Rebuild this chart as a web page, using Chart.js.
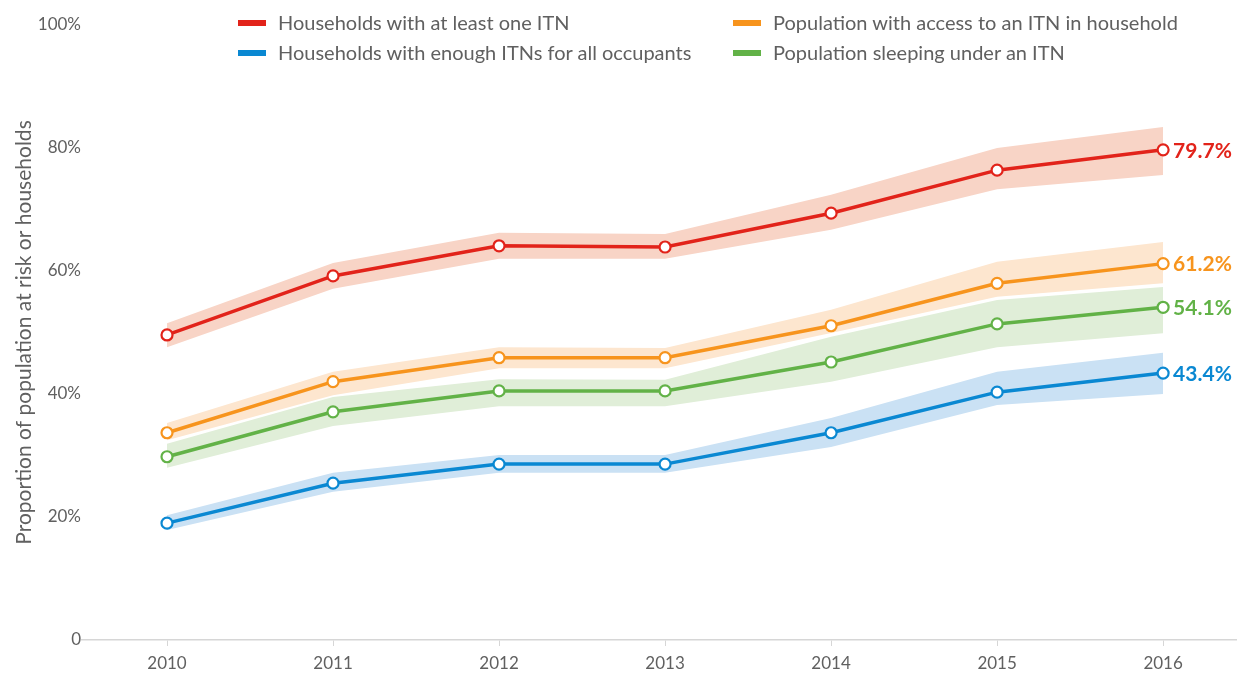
<!DOCTYPE html>
<html>
<head>
<meta charset="utf-8">
<script src="https://cdn.jsdelivr.net/npm/chart.js@4.4.1/dist/chart.umd.min.js"></script>
<style>
  body { margin: 0; background: #fff; }
  #wrap { position: relative; width: 1237px; height: 674px; }
  #legend { position: absolute; left: 238px; top: 8px; font-family: Lato, sans-serif; font-size: 20px; color: #606060; }
  .item { position: absolute; white-space: nowrap; line-height: 28px; }
  .sw { display: inline-block; width: 28px; height: 6px; margin-right: 12px; vertical-align: middle; position: relative; top: -2px; }
</style>
</head>
<body>
<div id="wrap">
  <canvas id="myChart" width="1237" height="674"></canvas>
  <div id="legend"></div>
</div>
<script>
// Años
var years = [2010, 2011, 2012, 2013, 2014, 2015, 2016];

// Hogares con al menos un MTI
var atLeastOne     = [49.6, 59.2, 64.1, 63.9, 69.4, 76.4, 79.7];
var atLeastOneLow  = [47.6, 57.1, 62.0, 62.0, 66.7, 73.3, 75.6];
var atLeastOneHigh = [51.5, 61.3, 66.2, 66.0, 72.4, 80.0, 83.4];

// Población con acceso
var access     = [33.7, 42.0, 45.9, 45.9, 51.1, 58.0, 61.2];
var accessLow  = [32.5, 39.8, 44.2, 44.2, 49.9, 55.8, 58.0];
var accessHigh = [35.3, 43.6, 47.6, 47.5, 53.7, 61.5, 64.7];

// Población durmiendo bajo MTI
var sleeping     = [29.8, 37.1, 40.5, 40.5, 45.2, 51.4, 54.1];
var sleepingLow  = [28.0, 34.8, 38.0, 38.0, 42.0, 47.6, 49.9];
var sleepingHigh = [31.9, 39.5, 42.4, 42.3, 49.3, 55.3, 57.4];

// Hogares con suficientes MTI
var enough     = [19.0, 25.5, 28.6, 28.6, 33.7, 40.3, 43.4];
var enoughLow  = [17.9, 24.1, 27.2, 27.2, 31.4, 38.2, 40.0];
var enoughHigh = [20.3, 27.2, 30.1, 30.1, 36.1, 43.6, 46.7];

var yTicks = [0, 20, 40, 60, 80, 100];

var series = [
    { label: "Households with at least one ITN", mid: atLeastOne, low: atLeastOneLow, high: atLeastOneHigh, color: "#e2231a", band: "#f8d4c6" },
    { label: "Population with access to an ITN in household", mid: access, low: accessLow, high: accessHigh, color: "#f7941d", band: "#fde6cf" },
    { label: "Population sleeping under an ITN", mid: sleeping, low: sleepingLow, high: sleepingHigh, color: "#62b247", band: "#e0eed8" },
    { label: "Households with enough ITNs for all occupants", mid: enough, low: enoughLow, high: enoughHigh, color: "#0a88d2", band: "#cae1f4" }
];

function pts(arr) {
    return arr.map(function (v, i) { return { x: years[i], y: v }; });
}

var datasets = [];
series.forEach(function (s) {
    datasets.push({ data: pts(s.low), pointRadius: 0, borderWidth: 0, fill: false, showLine: true, borderColor: "transparent" });
    datasets.push({ data: pts(s.high), pointRadius: 0, borderWidth: 0, fill: "-1", backgroundColor: s.band, borderColor: "transparent", showLine: true });
});
series.forEach(function (s) {
    datasets.push({
        data: pts(s.mid), borderColor: s.color, borderWidth: 3.5, fill: false,
        pointRadius: 5.5, pointBorderWidth: 2.2, pointBackgroundColor: "#fff", pointBorderColor: s.color,
        clip: false, isMain: true, endColor: s.color
    });
});

// Leyenda en HTML
var legendPos = [
    { i: 0, left: 0, top: 0 },
    { i: 3, left: 0, top: 30 },
    { i: 1, left: 495, top: 0 },
    { i: 2, left: 495, top: 30 }
];
var legend = document.getElementById("legend");
legendPos.forEach(function (p) {
    var s = series[p.i];
    var d = document.createElement("div");
    d.className = "item";
    d.style.left = p.left + "px";
    d.style.top = p.top + "px";
    d.innerHTML = '<span class="sw" style="background:' + s.color + '"></span>' + s.label;
    legend.appendChild(d);
});

// Etiquetas al final de cada línea
var endLabels = {
    id: "endLabels",
    afterDatasetsDraw: function (chart) {
        var ctx = chart.ctx;
        ctx.save();
        ctx.font = "bold 21px Lato, sans-serif";
        ctx.textBaseline = "middle";
        chart.data.datasets.forEach(function (ds, i) {
            if (!ds.isMain) return;
            var meta = chart.getDatasetMeta(i);
            var last = meta.data[meta.data.length - 1];
            var v = ds.data[ds.data.length - 1].y;
            ctx.fillStyle = ds.endColor;
            ctx.fillText(v.toFixed(1) + "%", last.x + 10, last.y + 1);
        });
        ctx.restore();
    }
};

var ctx = document.getElementById("myChart").getContext("2d");
var chart = new Chart(ctx, {
    type: "line",
    data: { datasets: datasets },
    plugins: [endLabels],
    options: {
        responsive: false,
        animation: false,
        layout: { autoPadding: false, padding: { top: 25, right: 0, left: 0, bottom: 0 } },
        plugins: {
            legend: { display: false },
            tooltip: { enabled: false },
            filler: { drawTime: "beforeDatasetsDraw" }
        },
        elements: { line: { tension: 0 } },
        scales: {
            x: {
                type: "linear",
                min: 2009.488,
                max: 2016.445,
                afterBuildTicks: function (scale) {
                    scale.ticks = years.map(function (y) { return { value: y }; });
                },
                afterFit: function (scale) { scale.height = 34; },
                grid: { drawOnChartArea: false, drawTicks: true, tickLength: 6, color: "#d6d6d6" },
                border: { display: true, color: "#d6d6d6", width: 1.5 },
                ticks: {
                    padding: 7,
                    color: "#606060",
                    font: { family: "Lato", size: 17 },
                    callback: function (v) { return String(v); }
                }
            },
            y: {
                min: 0,
                max: 100,
                afterBuildTicks: function (scale) {
                    scale.ticks = yTicks.map(function (v) { return { value: v }; });
                },
                afterFit: function (scale) { scale.width = 82; },
                grid: { display: false, drawTicks: false, tickLength: 0 },
                border: { display: false },
                title: {
                    display: true,
                    text: "Proportion of population at risk or households",
                    color: "#606060",
                    font: { family: "Lato", size: 21 },
                    padding: { top: 12, bottom: 0 }
                },
                ticks: {
                    padding: 1,
                    color: "#606060",
                    font: { family: "Lato", size: 17 },
                    callback: function (v) { return v === 0 ? "0" : v + "%"; }
                }
            }
        }
    }
});
</script>
</body>
</html>
